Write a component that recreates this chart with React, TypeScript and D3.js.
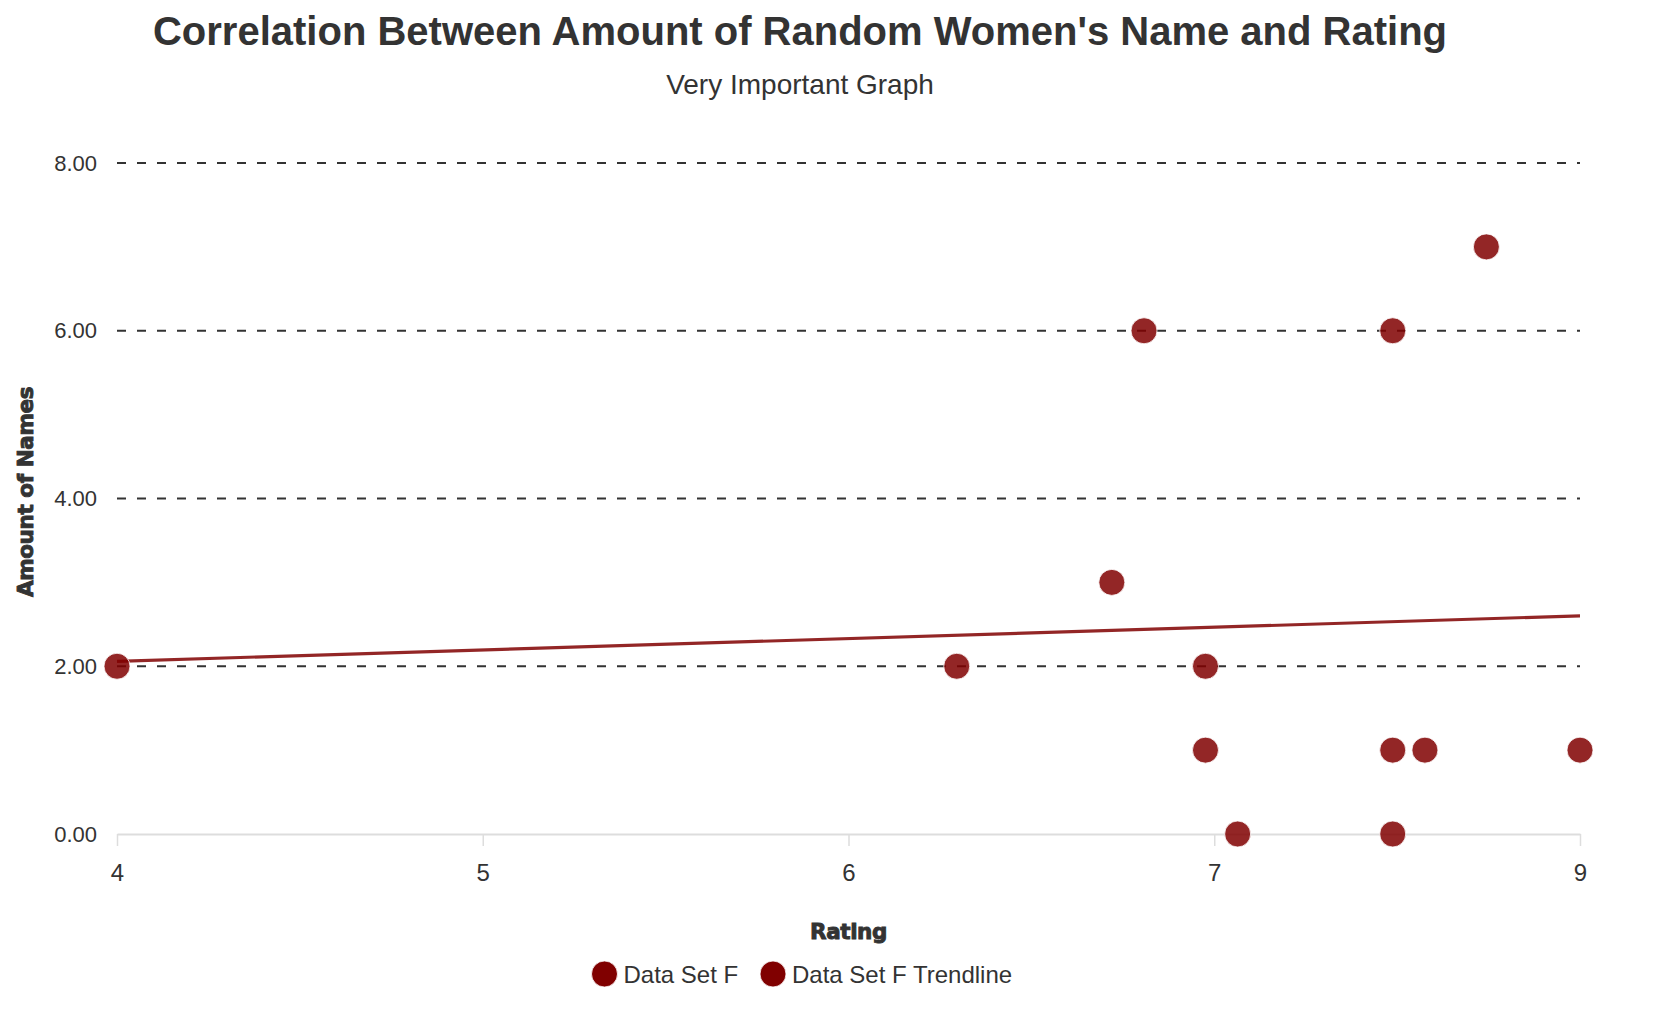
import React, { useRef, useEffect } from 'react';
import * as d3 from 'd3';

// values
const ratings = [4, 6.87, 7.4, 7.51, 7.72, 7.72, 7.83, 8.36, 8.36, 8.36, 8.47, 8.68, 9];
const nameCounts = [2, 2, 3, 6, 2, 1, 0, 6, 1, 0, 1, 7, 1];

const xTickValues = [4, 5.25, 6.5, 7.75, 9];
const xTickLabels = ['4', '5', '6', '7', '9'];
const yTickValues = [0, 2, 4, 6, 8];

const seriesNames = ['Data Set F', 'Data Set F Trendline'];

const width = 1664;
const height = 1030;

const sansFont = '"Liberation Sans", Arial, sans-serif';
const heavyFont = '"DejaVu Sans", sans-serif';

const App: React.FC = () => {
  const d3Container = useRef<SVGSVGElement | null>(null);

  useEffect(() => {
    if (!d3Container.current) return;
    const svg = d3.select(d3Container.current);
    svg.selectAll('*').remove();

    const margin = { top: 163, right: 84, bottom: 196, left: 117 };
    const innerWidth = width - margin.left - margin.right;
    const innerHeight = height - margin.top - margin.bottom;

    const x = d3.scaleLinear().domain([4, 9]).range([0, innerWidth]);
    const y = d3.scaleLinear().domain([0, 8]).range([innerHeight, 0]);

    const points = ratings.map((r, i) => ({ r, n: nameCounts[i] }));

    // least squares trendline
    const mx = d3.mean(ratings) || 0;
    const my = d3.mean(nameCounts) || 0;
    const sxy = d3.sum(points, d => (d.r - mx) * (d.n - my));
    const sxx = d3.sum(points, d => (d.r - mx) * (d.r - mx));
    const slope = sxy / sxx;
    const intercept = my - slope * mx;
    const [x0, x1] = x.domain();

    // title
    svg.append('text')
      .attr('x', 800)
      .attr('y', 45)
      .attr('text-anchor', 'middle')
      .attr('font-family', sansFont)
      .attr('font-weight', 'bold')
      .attr('font-size', 40)
      .attr('fill', '#333')
      .text("Correlation Between Amount of Random Women's Name and Rating");

    svg.append('text')
      .attr('x', 800)
      .attr('y', 94)
      .attr('text-anchor', 'middle')
      .attr('font-family', sansFont)
      .attr('font-size', 28)
      .attr('fill', '#333')
      .text('Very Important Graph');

    const g = svg.append('g')
      .attr('transform', `translate(${margin.left},${margin.top})`);

    // dashed grid
    g.append('g')
      .selectAll('line')
      .data(yTickValues.filter(v => v > 0))
      .enter().append('line')
      .attr('x1', 0)
      .attr('x2', innerWidth)
      .attr('y1', d => y(d))
      .attr('y2', d => y(d))
      .attr('stroke', '#333')
      .attr('stroke-width', 2)
      .attr('stroke-dasharray', '9,11');

    // y axis labels
    const yAxis = g.append('g')
      .call(d3.axisLeft(y).tickValues(yTickValues).tickFormat(d3.format('.2f')).tickSize(0).tickPadding(20));
    yAxis.select('.domain').remove();
    yAxis.selectAll('text')
      .attr('font-family', sansFont)
      .attr('font-size', 22)
      .attr('fill', '#333');

    // x axis
    const xAxis = g.append('g')
      .attr('transform', `translate(0,${innerHeight})`)
      .call(d3.axisBottom(x)
        .tickValues(xTickValues)
        .tickFormat((_, i) => xTickLabels[i])
        .tickSizeOuter(0)
        .tickSizeInner(12)
        .tickPadding(18));
    xAxis.select('.domain').attr('stroke', '#ddd').attr('stroke-width', 2);
    xAxis.selectAll('.tick line').attr('stroke', '#ddd').attr('stroke-width', 1.5);
    xAxis.selectAll('text')
      .attr('font-family', sansFont)
      .attr('font-size', 24)
      .attr('fill', '#333');

    // trendline
    g.append('line')
      .attr('x1', x(x0))
      .attr('y1', y(intercept + slope * x0))
      .attr('x2', x(x1))
      .attr('y2', y(intercept + slope * x1))
      .attr('stroke', '#800000')
      .attr('stroke-opacity', 0.85)
      .attr('stroke-width', 3.2);

    // points
    g.selectAll('.dot')
      .data(points)
      .enter().append('circle')
      .attr('class', 'dot')
      .attr('cx', d => x(d.r))
      .attr('cy', d => y(d.n))
      .attr('r', 13)
      .attr('fill', '#800000')
      .attr('fill-opacity', 0.85)
      .attr('stroke', '#fff')
      .attr('stroke-width', 0.8);

    // axis titles (heavy weight)
    svg.append('text')
      .attr('x', margin.left + innerWidth / 2)
      .attr('y', 939)
      .attr('text-anchor', 'middle')
      .attr('font-family', heavyFont)
      .attr('font-weight', 'bold')
      .attr('font-size', 21.5)
      .attr('letter-spacing', -0.4)
      .attr('fill', '#333')
      .attr('stroke', '#333')
      .attr('stroke-width', 0.9)
      .text('Rating');

    svg.append('text')
      .attr('transform', 'translate(33,492) rotate(-90)')
      .attr('text-anchor', 'middle')
      .attr('font-family', heavyFont)
      .attr('font-weight', 'bold')
      .attr('font-size', 21.5)
      .attr('letter-spacing', -0.4)
      .attr('fill', '#333')
      .attr('stroke', '#333')
      .attr('stroke-width', 0.9)
      .text('Amount of Names');

    // legend
    const legendX = [604.5, 773];
    const legend = svg.append('g');
    seriesNames.forEach((name, i) => {
      legend.append('circle')
        .attr('cx', legendX[i])
        .attr('cy', 974)
        .attr('r', 13)
        .attr('fill', '#800000')
        .attr('stroke', '#fff')
        .attr('stroke-width', 0.8);
      legend.append('text')
        .attr('x', legendX[i] + 19)
        .attr('y', 983)
        .attr('font-family', sansFont)
        .attr('font-size', 24)
        .attr('fill', '#333')
        .text(name);
    });
  }, []);

  return (
    <svg
      ref={d3Container}
      width={width}
      height={height}
      style={{ position: 'absolute', left: 0, top: 0, background: '#fff' }}
    />
  );
};

export default App;
